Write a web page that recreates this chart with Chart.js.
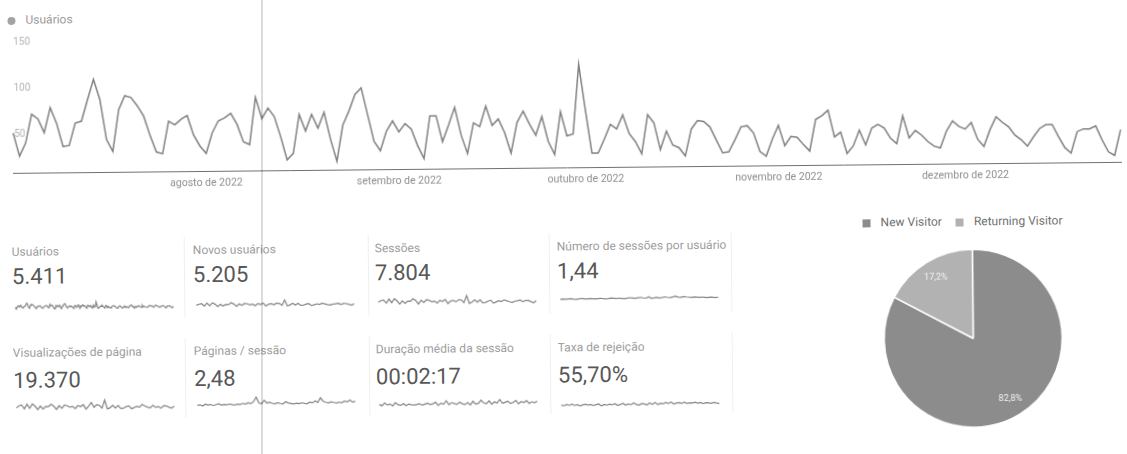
<!DOCTYPE html>
<html lang="pt-BR">
<head>
<meta charset="utf-8">
<title>Visão geral do público</title>
<script src="https://cdn.jsdelivr.net/npm/chart.js@4.4.1/dist/chart.umd.min.js"></script>
<style>
  html, body { margin: 0; padding: 0; background: #fff; }
  body { width: 1127px; height: 454px; overflow: hidden; position: relative;
         font-family: Roboto, "Noto Sans", Arial, sans-serif; }
  /* the printed sheet sits slightly askew */
  #sheet { position: absolute; left: 0; top: 0; width: 1127px; height: 454px;
           transform: rotate(-0.57deg); transform-origin: 0 173px; }
  .abs { position: absolute; }
  #usersLegend { left: 9px; top: 12px; height: 16px; line-height: 16px; font-size: 12px; color: #9a9a9a; white-space: nowrap; }
  #usersLegend i { display: inline-block; width: 8px; height: 8px; border-radius: 50%; background: #a3a3a3; margin-right: 10px; vertical-align: -0.5px; }
  #mainWrap { left: 0; top: 0; width: 1127px; height: 205px; }
  .lbl { font-size: 12px; line-height: 14px; height: 14px; color: #9d9d9d; white-space: nowrap; overflow: hidden; }
  .val { font-size: 22px; line-height: 24px; height: 24px; color: #585858; white-space: nowrap; }
  .sep { width: 1px; background: #efefef; }
  #pieLegend { left: 862px; top: 223px; height: 16px; line-height: 16px; font-size: 12px; color: #707070; white-space: nowrap; }
  #pieLegend span { display: inline-block; margin-right: 14px; }
  #pieLegend i { display: inline-block; width: 8px; height: 8px; margin-right: 10px; vertical-align: -0.5px; }
  #pieWrap { left: 850px; top: 248px; width: 243px; height: 200px; }
  #scanLine { left: 261px; top: 0; width: 2px; height: 454px; background: rgba(0,0,0,0.14); }
</style>
</head>
<body>
<div id="sheet">
  <div id="usersLegend" class="abs"><i></i>Usuários</div>
  <div id="mainWrap" class="abs"><canvas id="mainChart"></canvas></div>
  <div id="cards"></div>
  <div id="pieLegend" class="abs"></div>
  <div id="pieWrap" class="abs"><canvas id="pieChart"></canvas></div>
</div>
<div id="scanLine" class="abs"></div>

<script>
// ---- Daily users, 1 Jul 2022 onwards ----
const startDate = '2022-07-01';
const users = [
  43, 18, 32, 63, 58, 43, 70, 53, 28, 29,
  53, 55, 78, 100, 78, 35, 22, 67, 82, 80,
  71, 60, 39, 21, 19, 54, 50, 56, 60, 39,
  27, 19, 41, 54, 57, 62, 50, 31, 28, 79,
  56, 67, 58, 36, 11, 18, 60, 42, 60, 45,
  62, 33, 9, 48, 63, 81, 88, 59, 30, 20,
  41, 52, 40, 49, 43, 25, 11, 57, 57, 29,
  47, 66, 36, 16, 49, 45, 67, 46, 53, 38,
  16, 49, 61, 47, 35, 55, 28, 14, 60, 34,
  36, 111, 62, 15, 15, 30, 46, 41, 56, 36,
  27, 14, 56, 47, 18, 38, 23, 20, 11, 40,
  49, 48, 42, 28, 14, 15, 28, 42, 43, 35,
  15, 10, 28, 43, 21, 31, 30, 22, 15, 49,
  53, 59, 30, 35, 12, 20, 37, 21, 39, 43,
  39, 28, 22, 52, 28, 36, 31, 24, 19, 17,
  35, 46, 40, 37, 44, 26, 18, 36, 50, 44,
  39, 30, 25, 18, 28, 37, 41, 41, 28, 16,
  10, 33, 36, 36, 39, 24, 11, 7, 35
];

// ---- Axis ticks ----
const yTicks = [0, 50, 100, 150];
const monthStarts = ['2022-08-01', '2022-09-01', '2022-10-01', '2022-11-01', '2022-12-01'];
const monthTickLabels = ['agosto de 2022', 'setembro de 2022', 'outubro de 2022', 'novembro de 2022', 'dezembro de 2022'];

// ---- Scorecards ----
const metricLabels = ['Usuários', 'Novos usuários', 'Sessões', 'Número de sessões por usuário',
                      'Visualizações de página', 'Páginas / sessão', 'Duração média da sessão', 'Taxa de rejeição'];
const metricValues = ['5.411', '5.205', '7.804', '1,44', '19.370', '2,48', '00:02:17', '55,70%'];

// sparkline series (the users card reuses the daily users series)
const newUsersTrend = [40, 58, 66, 27, 74, 33, 78, 56, 19, 54, 27, 52, 48, 76, 56, 19, 58, 33, 63, 58,
  42, 50, 27, 58, 46, 66, 20, 48, 55, 38, 62, 57, 30, 110, 19, 33, 58, 31, 58, 24,
  27, 44, 51, 20, 33, 46, 36, 55, 45, 34, 26, 40, 44, 52, 33, 47, 46, 33, 21, 42];
const sessionsTrend = [60, 85, 95, 45, 110, 52, 112, 80, 30, 78, 40, 75, 70, 110, 82, 28, 86, 50, 92, 84,
  60, 72, 40, 82, 66, 95, 30, 70, 80, 56, 88, 82, 44, 150, 30, 50, 84, 46, 84, 36,
  40, 62, 74, 30, 48, 66, 52, 80, 64, 50, 38, 58, 64, 75, 48, 68, 66, 48, 30, 60];
const sessionsPerUserTrend = [1.40, 1.42, 1.39, 1.41, 1.43, 1.40, 1.38, 1.41, 1.44, 1.42, 1.40, 1.43, 1.41, 1.39, 1.42,
  1.44, 1.41, 1.40, 1.42, 1.45, 1.43, 1.41, 1.44, 1.42, 1.40, 1.43, 1.46, 1.44, 1.42, 1.45,
  1.48, 1.44, 1.41, 1.52, 1.40, 1.43, 1.47, 1.42, 1.45, 1.50, 1.46, 1.44, 1.49, 1.55, 1.47,
  1.45, 1.51, 1.48, 1.46, 1.44, 1.47, 1.45, 1.43, 1.46, 1.44, 1.42, 1.45, 1.43, 1.41, 1.44];
const pageviewsTrend = [150, 230, 260, 110, 290, 130, 300, 210, 80, 210, 100, 200, 190, 280, 200, 80, 220, 120, 240, 210,
  160, 190, 100, 220, 170, 250, 80, 190, 330, 140, 240, 220, 110, 420, 80, 120, 220, 110, 210, 90,
  100, 160, 190, 80, 120, 170, 130, 240, 170, 130, 100, 200, 120, 150, 90, 180, 170, 120, 80, 160];
const pagesPerSessionTrend = [2.35, 2.40, 2.30, 2.45, 2.38, 2.42, 2.33, 2.40, 2.47, 2.36, 2.41, 2.38, 2.44, 2.39, 2.35,
  2.43, 2.40, 2.48, 2.42, 2.52, 2.45, 2.60, 2.95, 2.50, 2.44, 2.70, 2.48, 2.55, 2.46, 2.42,
  2.50, 2.44, 2.40, 2.58, 2.47, 2.43, 2.39, 2.45, 2.41, 2.48, 2.44, 2.40, 2.52, 2.47, 2.62,
  2.49, 2.85, 2.58, 2.50, 2.46, 2.53, 2.48, 2.44, 2.50, 2.46, 2.58, 2.52, 2.65, 2.49, 2.55];
const durationTrend = [140, 90, 200, 120, 160, 80, 210, 130, 100, 170, 90, 150, 120, 110, 130, 160, 100, 140, 180, 120,
  150, 210, 90, 170, 130, 260, 110, 190, 150, 120, 200, 140, 110, 180, 90, 230, 120, 150, 270, 160,
  130, 240, 110, 200, 150, 290, 140, 180, 220, 130, 170, 250, 120, 200, 160, 240, 130, 190, 150, 210];
const bounceTrend = [55, 52, 57, 54, 58, 53, 56, 51, 55, 57, 54, 56, 52, 55, 58, 50, 56, 53, 57, 54,
  59, 52, 55, 60, 53, 57, 54, 61, 55, 52, 58, 56, 53, 60, 55, 62, 54, 58, 56, 61,
  57, 63, 55, 59, 60, 57, 62, 56, 59, 58, 61, 57, 60, 55, 59, 58, 56, 60, 57, 55];
const metricTrends = [users, newUsersTrend, sessionsTrend, sessionsPerUserTrend,
                      pageviewsTrend, pagesPerSessionTrend, durationTrend, bounceTrend];

// ---- New vs returning visitors ----
const visitorTypes = ['New Visitor', 'Returning Visitor'];
const visitorShare = [82.8, 17.2];
const visitorColors = ['#8c8c8c', '#b2b2b2'];

// ---------------------------------------------------------------
const FONT = 'Roboto, "Noto Sans", Arial, sans-serif';
Chart.defaults.font.family = FONT;

// one label per day, starting at startDate
const days = [];
{
  const d0 = new Date(startDate + 'T00:00:00Z');
  for (let i = 0; i < users.length; i++) {
    const d = new Date(d0.getTime() + i * 86400000);
    days.push(d.toISOString().slice(0, 10));
  }
}

new Chart(document.getElementById('mainChart'), {
  type: 'line',
  data: {
    labels: days,
    datasets: [{
      label: 'Usuários',
      data: users,
      borderColor: '#808080',
      borderWidth: 1.5,
      pointRadius: 0,
      tension: 0,
      fill: false
    }]
  },
  options: {
    responsive: true,
    maintainAspectRatio: false,
    animation: false,
    devicePixelRatio: 1,
    layout: { padding: { left: 13.5, right: 0, top: 34, bottom: 0 } },
    plugins: { legend: { display: false }, tooltip: { enabled: false } },
    scales: {
      x: {
        type: 'category',
        offset: false,
        grid: { display: false, drawTicks: false },
        border: { display: true, color: '#707070', width: 1, dash: [1, 1] },
        ticks: {
          autoSkip: false, maxRotation: 0, minRotation: 0, padding: 6,
          color: '#8e8e8e', font: { size: 10.5 },
          callback(value) {
            const k = monthStarts.indexOf(days[value]);
            return k >= 0 ? monthTickLabels[k] : '';
          }
        },
        afterFit(scale) { scale.height = 32; }
      },
      y: {
        min: yTicks[0], max: yTicks[yTicks.length - 1],
        grid: { display: false, drawTicks: false },
        border: { display: false },
        afterBuildTicks(scale) { scale.ticks = yTicks.map(v => ({ value: v })); },
        afterFit(scale) { scale.width = 0; },
        ticks: {
          mirror: true, padding: 1, labelOffset: 8,
          color: '#b2b2b2', font: { size: 10 },
          callback: v => (v === 0 ? '' : String(v))
        }
      }
    }
  }
});

// ---- scorecards ----
const colX = [11, 192, 374, 556];
const rowLabelTop = [244.5, 345.5];
const rowValueTop = [264.8, 368.6];
const rowSparkTop = [296, 398];
const sepX = [183, 367, 548, 730];
const cards = document.getElementById('cards');

for (let r = 0; r < 2; r++) {
  sepX.forEach(x => {
    const s = document.createElement('div');
    s.className = 'abs sep';
    s.style.left = x + 'px';
    s.style.top = (rowLabelTop[r] - 6) + 'px';
    s.style.height = '80px';
    cards.appendChild(s);
  });
}

metricLabels.forEach((label, i) => {
  const r = Math.floor(i / 4), c = i % 4;
  const l = document.createElement('div');
  l.className = 'abs lbl';
  l.style.left = colX[c] + 'px';
  l.style.top = rowLabelTop[r] + 'px';
  l.style.width = (sepX[c] - colX[c] - 2) + 'px';
  l.textContent = label;
  cards.appendChild(l);

  const v = document.createElement('div');
  v.className = 'abs val';
  v.style.left = colX[c] + 'px';
  v.style.top = rowValueTop[r] + 'px';
  v.textContent = metricValues[i];
  cards.appendChild(v);

  const cv = document.createElement('canvas');
  cv.className = 'abs';
  cv.width = 160; cv.height = 15;
  cv.style.left = (colX[c] + 2) + 'px';
  cv.style.top = rowSparkTop[r] + 'px';
  cards.appendChild(cv);

  const series = metricTrends[i];
  new Chart(cv, {
    type: 'line',
    data: { labels: series.map((_, k) => k), datasets: [{ data: series, borderColor: '#858585', borderWidth: 1.2, pointRadius: 0, tension: 0 }] },
    options: {
      responsive: false, animation: false, devicePixelRatio: 1,
      layout: { padding: 1 },
      plugins: { legend: { display: false }, tooltip: { enabled: false } },
      scales: { x: { display: false }, y: { display: false, grace: 0 } }
    }
  });
});

// ---- visitor type pie ----
const pieLegend = document.getElementById('pieLegend');
visitorTypes.forEach((name, i) => {
  const s = document.createElement('span');
  const b = document.createElement('i');
  b.style.background = visitorColors[i];
  s.appendChild(b);
  s.appendChild(document.createTextNode(name));
  pieLegend.appendChild(s);
});

const sliceLabels = {
  id: 'sliceLabels',
  afterDatasetsDraw(chart) {
    const { ctx } = chart;
    const meta = chart.getDatasetMeta(0);
    const values = chart.data.datasets[0].data;
    ctx.save();
    ctx.font = '9px ' + FONT;
    ctx.fillStyle = '#f2f2f2';
    ctx.textAlign = 'center';
    ctx.textBaseline = 'middle';
    meta.data.forEach((arc, i) => {
      const mid = (arc.startAngle + arc.endAngle) / 2;
      const r = arc.outerRadius * 0.8;
      const txt = values[i].toFixed(1).replace('.', ',') + '%';
      ctx.fillText(txt, arc.x + Math.cos(mid) * r, arc.y + Math.sin(mid) * r);
    });
    ctx.restore();
  }
};

new Chart(document.getElementById('pieChart'), {
  type: 'pie',
  data: {
    labels: visitorTypes,
    datasets: [{ data: visitorShare, backgroundColor: visitorColors, borderColor: '#ffffff', borderWidth: 1.5 }]
  },
  options: {
    responsive: true, maintainAspectRatio: false, animation: false, devicePixelRatio: 1,
    radius: 89,
    plugins: { legend: { display: false }, tooltip: { enabled: false } }
  },
  plugins: [sliceLabels]
});
</script>
</body>
</html>
